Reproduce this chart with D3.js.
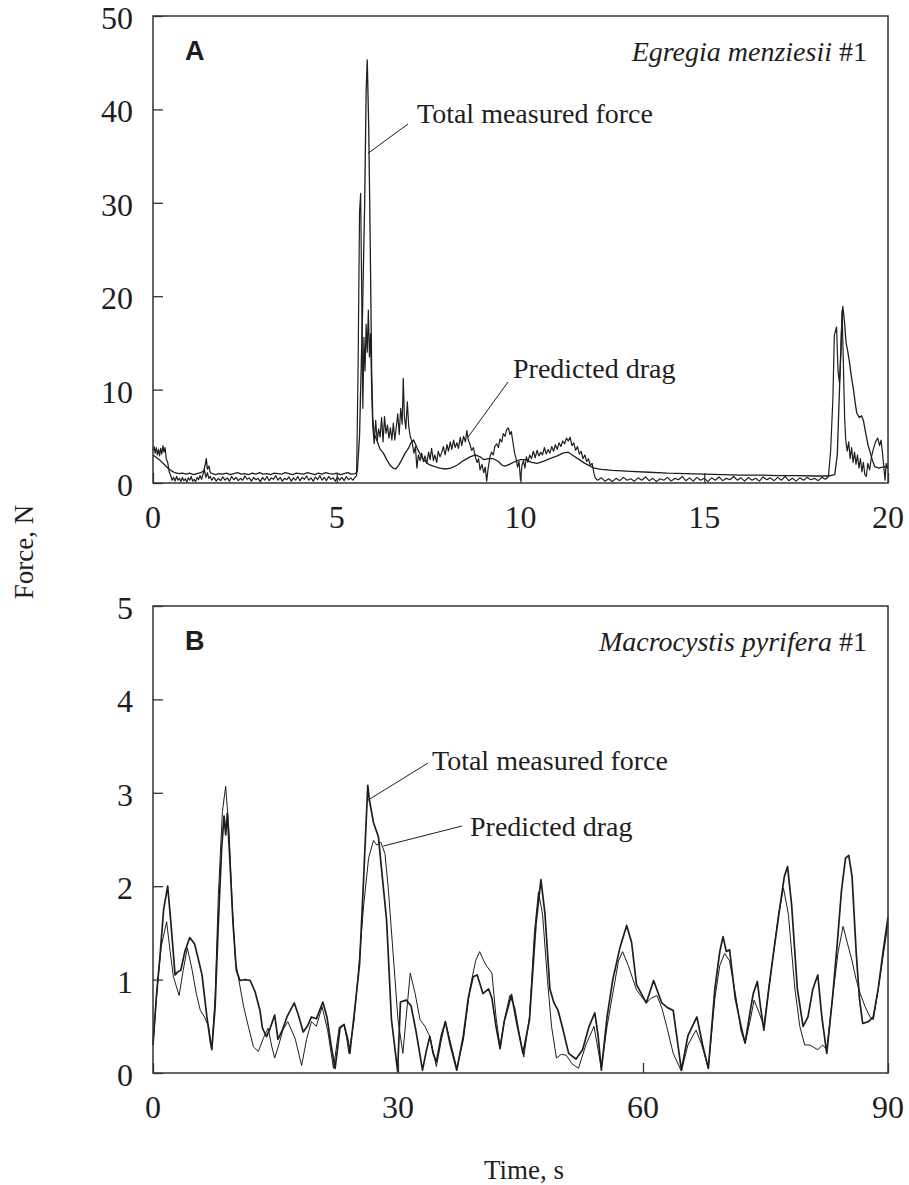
<!DOCTYPE html>
<html>
<head>
<meta charset="utf-8">
<script src="https://cdn.jsdelivr.net/npm/d3@7"></script>
<style>
  body { margin: 0; background: #fff; }
  svg { display: block; }
  text { fill: #1e1e1e; }
</style>
</head>
<body>
<svg id="chart" width="909" height="1185"></svg>
<script>
/*
 * Two stacked force traces: A (Egregia, 0-20 s) and B (Macrocystis, 0-90 s).
 * Values, [time s, force N].
 */

// ---- panel A data ----
var egregiaTicksX = [0, 5, 10, 15, 20];
var egregiaTicksY = [0, 10, 20, 30, 40, 50];
var egregiaMeasured = [
  [0,3.0],[0.1,2.7],[0.2,2.4],[0.3,2.0],[0.4,1.6],[0.5,1.3],[0.6,1.1],[0.7,1.0],[0.8,1.05],[0.9,0.95],
  [1.0,1.05],[1.1,0.9],[1.2,1.0],[1.3,1.1],[1.38,1.3],[1.42,1.9],[1.45,2.6],[1.48,1.5],[1.52,1.8],[1.56,1.1],
  [1.62,1.0],[1.7,0.9],[1.8,1.0],[1.9,0.95],[2.0,1.05],[2.1,0.9],[2.2,1.0],[2.3,1.1],[2.4,0.95],[2.5,1.0],
  [2.6,0.9],[2.7,1.05],[2.8,0.95],[2.9,1.1],[3.0,0.95],[3.1,1.0],[3.2,0.9],[3.3,1.05],[3.4,1.0],[3.5,0.95],
  [3.6,1.1],[3.7,1.0],[3.8,0.9],[3.9,1.05],[4.0,1.0],[4.1,0.95],[4.2,1.1],[4.3,1.0],[4.4,0.9],[4.5,1.05],
  [4.6,0.95],[4.7,1.1],[4.8,1.0],[4.9,0.95],[5.0,1.05],[5.1,0.9],[5.2,1.0],[5.3,1.1],[5.4,0.95],[5.5,1.0],
  [5.56,1.2],[5.62,5],[5.7,18],[5.76,30],[5.8,42],[5.83,45.3],[5.87,38],[5.91,26],[5.95,12],[5.98,7],
  [6.02,5.2],[6.09,4.6],[6.18,3.6],[6.27,3.2],[6.36,2.5],[6.45,1.9],[6.53,1.6],[6.61,1.5],[6.7,2.0],[6.77,2.5],
  [6.86,3.2],[6.95,3.7],[7.02,4.3],[7.09,4.6],[7.15,4.1],[7.2,3.6],[7.28,3.0],[7.36,2.5],[7.5,2.0],[7.63,1.8],
  [7.8,1.6],[7.95,1.5],[8.1,1.6],[8.27,1.9],[8.45,2.4],[8.63,2.8],[8.77,3.0],[8.9,2.8],[9.0,2.5],[9.13,2.6],
  [9.26,2.6],[9.4,2.3],[9.5,1.9],[9.58,1.8],[9.7,2.0],[9.85,2.3],[10.0,2.5],[10.15,2.5],[10.3,2.2],[10.45,2.1],
  [10.6,2.3],[10.8,2.6],[11.0,2.9],[11.15,3.2],[11.3,3.3],[11.45,2.9],[11.6,2.5],[11.75,2.1],[11.9,1.8],[12.0,1.6],
  [12.2,1.45],[12.5,1.35],[13.0,1.25],[13.5,1.15],[14.0,1.05],[14.5,1.0],[15.0,0.95],[15.5,0.9],[16.0,0.85],[16.5,0.85],
  [17.0,0.8],[17.5,0.8],[18.0,0.75],[18.4,0.75],[18.55,0.9],[18.62,3],[18.68,10],[18.73,16],[18.77,18.9],[18.81,17.5],
  [18.86,15],[18.9,14.2],[18.95,13.0],[19.0,11.5],[19.06,10.0],[19.11,8.5],[19.15,7.5],[19.22,7.0],[19.28,7.2],[19.33,6.7],
  [19.4,5.2],[19.46,4.0],[19.5,3.5],[19.57,2.5],[19.64,1.75],[19.75,1.6],[19.85,1.7],[20.0,1.75]
];
var egregiaDrag = [
  [0,3.5],[0.03,3.9],[0.06,3.2],[0.09,3.8],[0.12,3.0],[0.15,3.6],[0.18,2.9],[0.21,3.7],[0.24,3.1],[0.27,4.0],
  [0.3,3.3],[0.33,3.8],[0.36,2.6],[0.4,2.2],[0.44,1.2],[0.48,0.8],[0.52,0.3],[0.56,0.6],[0.6,0.2],[0.64,0.7],
  [0.68,0.3],[0.72,0.5],[0.76,0.15],[0.8,0.6],[0.84,0.25],[0.88,0.45],[0.92,0.1],[0.96,0.55],[1.0,0.3],[1.04,0.7],
  [1.08,0.2],[1.12,0.4],[1.16,0.15],[1.2,0.6],[1.24,0.35],[1.28,0.8],[1.32,0.4],[1.36,0.9],[1.4,1.4],[1.44,0.6],
  [1.48,1.1],[1.52,0.5],[1.56,0.7],[1.6,0.3],[1.66,0.6],[1.72,0.2],[1.78,0.5],[1.84,0.25],[1.9,0.65],[1.96,0.3],
  [2.02,0.55],[2.08,0.2],[2.14,0.7],[2.2,0.35],[2.26,0.6],[2.32,0.25],[2.38,0.5],[2.44,0.3],[2.5,0.75],[2.56,0.4],
  [2.62,0.55],[2.68,0.2],[2.74,0.6],[2.8,0.35],[2.86,0.5],[2.92,0.15],[2.98,0.6],[3.04,0.3],[3.1,0.7],[3.16,0.25],
  [3.22,0.55],[3.28,0.4],[3.34,0.8],[3.4,0.3],[3.46,0.6],[3.52,0.2],[3.58,0.5],[3.64,0.35],[3.7,0.65],[3.76,0.2],
  [3.82,0.55],[3.88,0.3],[3.94,0.7],[4.0,0.25],[4.06,0.6],[4.12,0.4],[4.18,0.75],[4.24,0.3],[4.3,0.55],[4.36,0.2],
  [4.42,0.65],[4.48,0.35],[4.54,0.8],[4.6,0.3],[4.66,0.6],[4.72,0.25],[4.78,0.7],[4.84,0.4],[4.9,0.55],[4.96,0.2],
  [5.02,0.65],[5.08,0.3],[5.14,0.6],[5.2,0.25],[5.26,0.7],[5.32,0.35],[5.38,0.55],[5.44,0.3],[5.5,0.6],[5.54,0.8],
  [5.58,12],[5.62,29],[5.65,31],[5.68,20],[5.71,8],[5.74,15.6],[5.77,12],[5.8,17],[5.83,14],[5.86,18.5],
  [5.89,13.5],[5.92,16],[5.95,10],[5.98,6],[6.02,4.2],[6.06,6.7],[6.1,4.5],[6.14,5.8],[6.18,4.9],[6.22,7.0],
  [6.26,4.4],[6.3,7.1],[6.34,5.3],[6.38,6.2],[6.42,4.8],[6.46,5.9],[6.5,4.6],[6.54,6.4],[6.58,4.6],[6.62,6.0],
  [6.66,7.4],[6.7,5.2],[6.74,8.0],[6.78,6.3],[6.81,11.2],[6.84,7.1],[6.88,5.8],[6.92,8.7],[6.96,6.0],[7.0,5.0],
  [7.05,4.4],[7.1,3.2],[7.14,3.9],[7.18,1.6],[7.22,3.0],[7.27,2.4],[7.31,3.2],[7.36,2.3],[7.4,2.9],[7.45,2.1],
  [7.5,3.3],[7.54,2.5],[7.58,3.7],[7.63,2.4],[7.67,3.0],[7.72,2.2],[7.76,3.4],[7.81,2.8],[7.86,3.3],[7.9,3.9],
  [7.95,3.0],[8.0,4.1],[8.04,3.4],[8.09,4.4],[8.13,3.6],[8.18,4.6],[8.22,3.8],[8.27,4.3],[8.31,3.7],[8.36,4.9],
  [8.4,4.0],[8.45,5.0],[8.5,4.4],[8.54,5.6],[8.58,4.6],[8.62,4.2],[8.67,3.5],[8.72,3.8],[8.77,2.8],[8.82,2.2],
  [8.86,2.6],[8.9,1.4],[8.95,2.0],[9.0,1.1],[9.04,1.7],[9.08,0.2],[9.12,1.6],[9.17,2.8],[9.21,3.3],[9.26,3.0],
  [9.3,3.9],[9.35,4.2],[9.4,3.8],[9.44,4.7],[9.49,4.4],[9.53,5.3],[9.58,5.0],[9.62,5.7],[9.67,5.9],[9.71,5.2],
  [9.75,5.5],[9.8,4.2],[9.84,3.2],[9.88,2.6],[9.92,1.7],[9.96,2.3],[10.0,0.3],[10.04,1.9],[10.08,2.4],[10.12,1.6],
  [10.16,2.8],[10.2,2.2],[10.25,3.0],[10.3,2.6],[10.35,3.4],[10.4,2.7],[10.45,3.5],[10.5,2.9],[10.55,3.3],[10.6,3.0],
  [10.65,3.8],[10.7,3.1],[10.75,3.6],[10.8,3.2],[10.85,3.9],[10.9,3.4],[10.95,4.1],[11.0,3.6],[11.05,4.3],[11.1,3.9],
  [11.15,4.5],[11.2,4.2],[11.25,4.8],[11.3,4.5],[11.35,4.9],[11.4,4.0],[11.45,4.3],[11.5,3.5],[11.55,3.9],[11.6,3.1],
  [11.65,3.4],[11.7,2.6],[11.75,3.0],[11.8,2.3],[11.85,2.6],[11.9,1.9],[11.95,2.1],[12.0,1.0],[12.04,0.5],[12.1,0.3],
  [12.2,0.55],[12.3,0.2],[12.4,0.45],[12.5,0.15],[12.6,0.5],[12.7,0.25],[12.8,0.6],[12.9,0.3],[13.0,0.45],[13.1,0.2],
  [13.2,0.55],[13.3,0.3],[13.4,0.65],[13.5,0.25],[13.6,0.5],[13.7,0.15],[13.8,0.45],[13.9,0.3],[14.0,0.6],[14.1,0.2],
  [14.2,0.5],[14.3,0.35],[14.4,0.7],[14.5,0.25],[14.6,0.55],[14.7,0.2],[14.8,0.6],[14.9,0.3],[15.0,0.5],[15.1,0.15],
  [15.2,0.55],[15.3,0.3],[15.4,0.65],[15.5,0.25],[15.6,0.5],[15.7,0.35],[15.8,0.7],[15.9,0.3],[16.0,0.55],[16.1,0.2],
  [16.2,0.6],[16.3,0.3],[16.4,0.5],[16.5,0.2],[16.6,0.65],[16.7,0.35],[16.8,0.55],[16.9,0.25],[17.0,0.6],[17.1,0.3],
  [17.2,0.7],[17.3,0.25],[17.4,0.5],[17.5,0.2],[17.6,0.55],[17.7,0.3],[17.8,0.6],[17.9,0.35],[18.0,0.5],[18.1,0.25],
  [18.2,0.6],[18.3,0.4],[18.38,0.7],[18.44,3.5],[18.5,9],[18.54,15.8],[18.6,16.7],[18.64,12],[18.68,10.7],[18.72,14],
  [18.75,18.5],[18.79,12],[18.82,7],[18.85,4.6],[18.89,3.4],[18.93,4.4],[18.97,2.6],[19.01,3.8],[19.05,2.2],[19.09,3.3],
  [19.13,2.0],[19.17,3.0],[19.21,1.6],[19.25,2.6],[19.29,1.2],[19.33,2.2],[19.37,0.9],[19.41,0.7],[19.45,2.1],[19.5,1.4],
  [19.55,2.8],[19.6,3.6],[19.66,4.4],[19.72,4.8],[19.77,4.0],[19.81,4.6],[19.85,3.2],[19.88,2.0],[19.92,0.3],[19.95,2.1],
  [19.98,1.6],[20.0,1.9]
];

// ---- panel B data ----
var macroTicksX = [0, 30, 60, 90];
var macroTicksY = [0, 1, 2, 3, 4, 5];
var macroMeasured = [
  [0,0.3],[0.4,0.8],[0.9,1.3],[1.3,1.75],[1.8,2.0],[2.2,1.6],[2.7,1.05],[3.0,1.08],[3.4,1.1],[3.9,1.3],
  [4.5,1.45],[5.1,1.38],[5.6,1.2],[6.0,1.05],[6.6,0.6],[7.0,0.35],[7.2,0.25],[7.6,0.7],[8.0,1.6],[8.4,2.4],
  [8.7,2.75],[8.9,2.55],[9.1,2.78],[9.4,2.3],[9.8,1.6],[10.2,1.1],[10.65,0.99],[11.3,1.0],[11.9,0.99],[12.5,0.87],
  [13.1,0.67],[13.4,0.48],[13.9,0.39],[14.3,0.47],[14.9,0.62],[15.3,0.36],[15.8,0.45],[16.4,0.6],[17.3,0.75],[17.8,0.62],
  [18.4,0.44],[18.9,0.5],[19.4,0.6],[20.0,0.58],[20.8,0.76],[21.3,0.6],[21.8,0.3],[22.3,0.05],[22.9,0.48],[23.4,0.52],
  [23.9,0.34],[24.1,0.21],[24.6,0.6],[25.3,1.17],[25.8,2.1],[26.3,3.08],[26.5,2.92],[27.0,2.68],[27.6,2.53],[28.0,2.17],
  [28.6,1.64],[29.2,0.57],[29.95,0.02],[30.3,0.76],[31.0,0.78],[31.6,0.72],[32.2,0.45],[33.0,0.03],[33.5,0.25],[33.9,0.39],
  [34.3,0.21],[34.7,0.12],[35.3,0.4],[35.8,0.55],[36.4,0.3],[37.2,0.03],[38.0,0.4],[38.6,0.8],[39.2,1.03],[39.7,1.05],
  [40.4,0.85],[41.1,0.9],[41.5,0.8],[42.0,0.5],[42.5,0.26],[43.0,0.55],[43.9,0.84],[44.5,0.55],[45.3,0.21],[46.1,0.57],
  [46.9,1.6],[47.5,2.07],[48.0,1.7],[48.6,0.9],[49.1,0.75],[49.6,0.67],[50.1,0.5],[50.9,0.21],[51.8,0.15],[52.6,0.25],
  [53.4,0.5],[54.1,0.645],[54.5,0.4],[54.9,0.03],[55.6,0.6],[56.3,1.0],[57.2,1.35],[58.0,1.58],[58.6,1.4],[59.2,0.95],
  [59.8,0.85],[60.4,0.75],[61.3,0.99],[62.3,0.75],[63.0,0.7],[63.7,0.67],[64.2,0.35],[64.7,0.03],[65.5,0.4],[66.6,0.6],
  [67.3,0.3],[68.0,0.05],[68.8,0.9],[69.4,1.3],[69.8,1.46],[70.2,1.3],[70.6,1.32],[71.3,0.8],[72.0,0.5],[72.5,0.32],
  [73.2,0.7],[73.5,0.85],[74.0,0.98],[74.4,0.7],[74.8,0.46],[75.4,0.9],[76.0,1.3],[76.8,1.8],[77.3,2.1],[77.7,2.21],
  [78.2,1.8],[78.9,0.9],[79.6,0.5],[80.2,0.6],[80.8,0.9],[81.4,1.05],[81.9,0.6],[82.5,0.21],[83.2,0.8],[83.8,1.4],
  [84.3,1.95],[84.8,2.3],[85.2,2.33],[85.6,2.1],[86.1,1.3],[86.5,0.8],[86.9,0.53],[87.6,0.55],[88.2,0.6],[88.8,0.9],
  [89.4,1.3],[90,1.67]
];
var macroDrag = [
  [0,0.3],[0.5,0.9],[1.0,1.35],[1.67,1.62],[2.1,1.3],[2.5,1.03],[3.2,0.83],[3.7,1.1],[4.2,1.34],[4.8,1.1],
  [5.3,0.85],[5.8,0.67],[6.3,0.6],[6.8,0.5],[7.2,0.26],[7.6,0.8],[8.0,1.9],[8.5,2.8],[8.9,3.07],[9.3,2.6],
  [9.7,1.8],[10.1,1.2],[10.5,1.0],[11.1,0.71],[11.7,0.49],[12.3,0.28],[12.9,0.23],[13.5,0.37],[14.1,0.48],[14.5,0.3],
  [14.9,0.16],[15.4,0.3],[15.9,0.46],[16.5,0.55],[17.4,0.37],[18.2,0.08],[18.8,0.36],[19.4,0.55],[20.0,0.5],[20.7,0.71],
  [21.4,0.45],[22.1,0.05],[22.8,0.49],[23.4,0.52],[23.7,0.38],[24.0,0.21],[24.6,0.55],[25.1,1.03],[25.8,1.8],[26.4,2.3],
  [27.0,2.49],[27.4,2.44],[27.9,2.47],[28.4,2.35],[28.8,1.99],[29.4,1.28],[30.0,0.57],[30.6,0.21],[31.0,0.6],[31.5,1.07],
  [32.1,0.85],[32.7,0.57],[33.3,0.5],[33.9,0.39],[34.7,0.07],[35.3,0.35],[35.8,0.55],[36.5,0.3],[37.2,0.05],[38.0,0.35],
  [38.8,0.9],[39.5,1.2],[40.0,1.3],[40.5,1.2],[40.9,1.14],[41.5,1.07],[42.0,0.6],[42.5,0.28],[43.1,0.6],[43.7,0.83],
  [44.3,0.7],[44.9,0.4],[45.4,0.17],[46.1,0.6],[46.7,1.5],[47.2,1.94],[47.7,1.7],[48.3,1.0],[48.8,0.5],[49.4,0.16],
  [50.0,0.2],[50.6,0.19],[51.3,0.1],[52.1,0.05],[53.0,0.3],[54.0,0.5],[54.4,0.3],[54.9,0.05],[55.6,0.5],[56.4,0.9],
  [57.0,1.2],[57.5,1.3],[58.2,1.15],[59.2,0.89],[60.4,0.75],[61.0,0.8],[61.7,0.83],[62.3,0.7],[62.9,0.5],[63.7,0.21],
  [64.7,0.02],[65.5,0.3],[66.5,0.46],[67.2,0.3],[68.0,0.05],[68.8,0.8],[69.4,1.15],[70.0,1.28],[70.6,1.2],[71.4,0.8],
  [72.0,0.45],[72.5,0.32],[73.1,0.55],[73.6,0.78],[74.2,0.65],[74.8,0.5],[75.4,0.9],[76.0,1.3],[76.6,1.7],[77.2,1.98],
  [77.8,1.7],[78.6,0.9],[79.2,0.5],[79.8,0.3],[80.4,0.3],[80.8,0.28],[81.4,0.25],[82.0,0.3],[82.5,0.25],[83.2,0.8],
  [83.9,1.3],[84.5,1.57],[85.0,1.4],[85.6,1.2],[86.1,1.0],[86.6,0.85],[87.2,0.71],[87.8,0.6],[88.2,0.57],[88.8,0.9],
  [89.4,1.25],[90,1.6]
];

var svg = d3.select("#chart");
var ink = "#1e1e1e";
var serif = "'Liberation Serif', 'Times New Roman', serif";
var sans = "'Liberation Sans', Arial, sans-serif";

// draws one framed panel with its two traces
function drawPanel(p) {
    var x = d3.scaleLinear().domain([0, p.xmax]).range([153, 888]);
    var y = d3.scaleLinear().domain([0, p.ymax]).range([p.bottom, p.top]);
    var g = svg.append("g");

    var line = d3.line()
        .x(function(d) { return x(d[0]); })
        .y(function(d) { return y(d[1]); });

    g.append("path").datum(p.drag).attr("d", line)
        .attr("fill", "none").attr("stroke", ink).attr("stroke-width", p.dragWidth)
        .attr("stroke-linejoin", "round");
    g.append("path").datum(p.measured).attr("d", line)
        .attr("fill", "none").attr("stroke", ink).attr("stroke-width", p.measWidth)
        .attr("stroke-linejoin", "round");

    // inward ticks, no labels from the axis itself
    var yAxis = d3.axisRight(y).tickValues(p.ticksY).tickSize(10).tickFormat("");
    var xAxis = d3.axisTop(x).tickValues(p.ticksX).tickSize(10).tickFormat("");
    g.append("g").attr("transform", "translate(153,0)").call(yAxis);
    g.append("g").attr("transform", "translate(0," + p.bottom + ")").call(xAxis);
    g.selectAll(".domain").remove();
    g.selectAll(".tick line").attr("stroke", "#333").attr("stroke-width", 1.3);

    // frame
    g.append("rect").attr("x", 153).attr("y", p.top)
        .attr("width", 735).attr("height", p.bottom - p.top)
        .attr("fill", "none").attr("stroke", "#333").attr("stroke-width", 1.5);

    // tick labels
    g.selectAll("text.ylab").data(p.ticksY).enter().append("text")
        .attr("class", "ylab").attr("x", 133).attr("y", function(d) { return y(d) + 13; })
        .attr("text-anchor", "end").style("font-family", serif).style("font-size", "32px")
        .text(function(d) { return d; });
    g.selectAll("text.xlab").data(p.ticksX).enter().append("text")
        .attr("class", "xlab").attr("x", function(d) { return x(d); }).attr("y", p.bottom + 45)
        .attr("text-anchor", "middle").style("font-family", serif).style("font-size", "32px")
        .text(function(d) { return d; });

    g.append("text").attr("x", 185).attr("y", p.top + 44)
        .style("font-family", sans).style("font-weight", "bold").style("font-size", "27px")
        .text(p.letter);

    var sp = g.append("text").attr("x", 867).attr("y", p.top + 45)
        .attr("text-anchor", "end").style("font-family", serif).style("font-size", "28px");
    sp.append("tspan").style("font-style", "italic").text(p.species);
    sp.append("tspan").text(" #1");

    // leader labels
    p.notes.forEach(function(n) {
        g.append("line").attr("x1", n.lx).attr("y1", n.ly)
            .attr("x2", x(n.t)).attr("y2", y(n.f))
            .attr("stroke", ink).attr("stroke-width", 1);
        g.append("text").attr("x", n.tx).attr("y", n.ty)
            .style("font-family", serif).style("font-size", "28px").text(n.text);
    });
}

drawPanel({
    letter: "A", species: "Egregia menziesii", xmax: 20, ymax: 50, top: 16, bottom: 483,
    ticksX: egregiaTicksX, ticksY: egregiaTicksY,
    measured: egregiaMeasured, drag: egregiaDrag, measWidth: 1.3, dragWidth: 1.2,
    notes: [
        { text: "Total measured force", tx: 417, ty: 123, lx: 408, ly: 124, t: 5.85, f: 35.3 },
        { text: "Predicted drag", tx: 513, ty: 378, lx: 508, ly: 382, t: 8.57, f: 4.9 }
    ]
});

drawPanel({
    letter: "B", species: "Macrocystis pyrifera", xmax: 90, ymax: 5, top: 606, bottom: 1073,
    ticksX: macroTicksX, ticksY: macroTicksY,
    measured: macroMeasured, drag: macroDrag, measWidth: 1.7, dragWidth: 1.0,
    notes: [
        { text: "Total measured force", tx: 432, ty: 770, lx: 428, ly: 763, t: 26.3, f: 2.92 },
        { text: "Predicted drag", tx: 470, ty: 836, lx: 462, ly: 826, t: 28.2, f: 2.43 }
    ]
});

// axis titles
svg.append("text").attr("transform", "translate(33,552) rotate(-90)")
    .attr("text-anchor", "middle").style("font-family", serif).style("font-size", "27px")
    .text("Force, N");
svg.append("text").attr("x", 524).attr("y", 1179)
    .attr("text-anchor", "middle").style("font-family", serif).style("font-size", "27px")
    .text("Time, s");
</script>
</body>
</html>
